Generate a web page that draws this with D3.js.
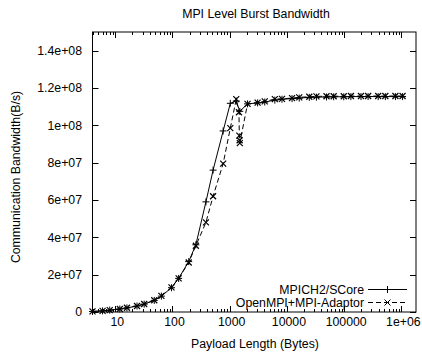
<!DOCTYPE html>
<html>
<head>
<meta charset="utf-8">
<script src="https://cdn.jsdelivr.net/npm/d3@7"></script>
<style>
  html, body { margin: 0; padding: 0; background: #fff; }
  svg text { font-family: "Liberation Sans", Arial, sans-serif; font-size: 12.3px; fill: #000; }
</style>
</head>
<body>
<div id="chart"></div>
<script>
// payload sizes (bytes) and bandwidth (B/s)
const mpichSizes = [4, 6, 8, 12, 16, 24, 32, 48, 64, 96, 128, 192, 256, 384, 512, 768, 1024, 1300, 1500,
    2048, 3072, 4096, 6144, 8192, 12288, 16384, 24576, 32768, 49152, 65536, 98304, 131072,
    196608, 262144, 393216, 524288, 786432, 1048576];
const mpichBandwidth = [0.3e6, 0.6e6, 1.0e6, 1.6e6, 2.2e6, 3.2e6, 4.2e6, 6.2e6, 8.5e6, 1.3e7, 1.8e7, 2.7e7, 3.6e7,
    5.9e7, 7.6e7, 9.7e7, 1.118e8, 1.13e8, 1.075e8,
    1.115e8, 1.12e8, 1.125e8, 1.135e8, 1.14e8, 1.143e8, 1.146e8, 1.15e8, 1.151e8, 1.152e8, 1.153e8, 1.153e8, 1.154e8,
    1.154e8, 1.154e8, 1.154e8, 1.154e8, 1.154e8, 1.154e8];

const adaptorSizes = [4, 6, 8, 12, 16, 24, 32, 48, 64, 96, 128, 192, 256, 384, 512, 768, 1024, 1300, 1450, 1472, 1490, 1500,
    2048, 3072, 4096, 6144, 8192, 12288, 16384, 24576, 32768, 49152, 65536, 98304, 131072,
    196608, 262144, 393216, 524288, 786432, 1048576];
const adaptorBandwidth = [0.3e6, 0.6e6, 1.0e6, 1.6e6, 2.3e6, 3.2e6, 4.3e6, 6.3e6, 8.6e6, 1.32e7, 1.8e7, 2.65e7, 3.55e7,
    4.8e7, 6.2e7, 7.95e7, 9.85e7, 1.14e8, 1.07e8, 9.45e7, 9.2e7, 9.05e7,
    1.115e8, 1.122e8, 1.128e8, 1.14e8, 1.142e8, 1.146e8, 1.15e8, 1.153e8, 1.155e8, 1.156e8, 1.156e8, 1.156e8, 1.157e8,
    1.157e8, 1.157e8, 1.157e8, 1.157e8, 1.157e8, 1.157e8];

const xTickValues = [10, 100, 1000, 10000, 100000, 1000000];
const xTickLabels = ["10", "100", "1000", "10000", "100000", "1e+06"];
const yTickValues = [0, 2e7, 4e7, 6e7, 8e7, 1e8, 1.2e8, 1.4e8];
const yTickLabels = ["0", "2e+07", "4e+07", "6e+07", "8e+07", "1e+08", "1.2e+08", "1.4e+08"];

const seriesNames = ["MPICH2/SCore", "OpenMPI+MPI-Adaptor"];

const width = 422, height = 352;
const plotLeft = 92.5, plotRight = 416, plotTop = 32, plotBottom = 312;

const svg = d3.select("#chart").append("svg")
    .attr("width", width)
    .attr("height", height)
    .style("display", "block");

const x = d3.scaleLog().domain([4, 1.8e6]).range([plotLeft, plotRight]);
const y = d3.scaleLinear().domain([0, 1.5e8]).range([plotBottom, plotTop]);

// frame
svg.append("rect")
    .attr("x", plotLeft).attr("y", plotTop)
    .attr("width", plotRight - plotLeft).attr("height", plotBottom - plotTop)
    .attr("fill", "none").attr("stroke", "#000").attr("stroke-width", 1);

// x ticks, major + minor, mirrored on top
const ticks = svg.append("g").attr("stroke", "#000").attr("stroke-width", 1);
x.ticks().forEach(v => {
    const major = xTickValues.includes(v);
    const len = major ? 6 : 3;
    const px = Math.round(x(v)) + 0.5;
    ticks.append("line").attr("x1", px).attr("x2", px).attr("y1", plotBottom).attr("y2", plotBottom - len);
    ticks.append("line").attr("x1", px).attr("x2", px).attr("y1", plotTop).attr("y2", plotTop + len);
});
yTickValues.forEach(v => {
    const py = Math.round(y(v)) + 0.5;
    ticks.append("line").attr("x1", plotLeft).attr("x2", plotLeft + 6).attr("y1", py).attr("y2", py);
    ticks.append("line").attr("x1", plotRight).attr("x2", plotRight - 6).attr("y1", py).attr("y2", py);
});

svg.append("g").selectAll("text")
    .data(xTickValues)
    .enter().append("text")
    .attr("x", d => x(d) + 2)
    .attr("y", 325.5)
    .attr("text-anchor", "middle")
    .text((d, i) => xTickLabels[i]);

svg.append("g").selectAll("text")
    .data(yTickValues)
    .enter().append("text")
    .attr("x", 82)
    .attr("y", d => y(d))
    .attr("dy", "0.35em")
    .attr("text-anchor", "end")
    .text((d, i) => yTickLabels[i]);

// titles
svg.append("text")
    .attr("x", 256).attr("y", 18)
    .attr("text-anchor", "middle")
    .text("MPI Level Burst Bandwidth");
svg.append("text")
    .attr("x", 255).attr("y", 347.5)
    .attr("text-anchor", "middle")
    .text("Payload Length (Bytes)");
svg.append("text")
    .attr("transform", "translate(20,177) rotate(-90)")
    .attr("text-anchor", "middle")
    .text("Communication Bandwidth(B/s)");

// markers
function plusPath(px, py) {
    const r = 3.5;
    return `M${px - r},${py}h${2 * r}M${px},${py - r}v${2 * r}`;
}
function crossPath(px, py) {
    const r = 3;
    return `M${px - r},${py - r}l${2 * r},${2 * r}M${px + r},${py - r}l${-2 * r},${2 * r}`;
}

const line = d3.line().x(d => x(d[0])).y(d => y(d[1]));

const mpich = mpichSizes.map((s, i) => [s, mpichBandwidth[i]]);
const adaptor = adaptorSizes.map((s, i) => [s, adaptorBandwidth[i]]);

const plot = svg.append("g");
plot.append("path")
    .datum(mpich)
    .attr("d", line)
    .attr("fill", "none").attr("stroke", "#000").attr("stroke-width", 1);
plot.append("path")
    .attr("d", mpich.map(d => plusPath(x(d[0]), y(d[1]))).join(""))
    .attr("fill", "none").attr("stroke", "#000").attr("stroke-width", 1);

plot.append("path")
    .datum(adaptor)
    .attr("d", line)
    .attr("fill", "none").attr("stroke", "#000").attr("stroke-width", 1)
    .attr("stroke-dasharray", "5,3");
plot.append("path")
    .attr("d", adaptor.map(d => crossPath(x(d[0]), y(d[1]))).join(""))
    .attr("fill", "none").attr("stroke", "#000").attr("stroke-width", 1.2);

// legend
const legend = svg.append("g");
const legendRows = [
    { name: seriesNames[0], y: 289.5, dash: null, marker: plusPath },
    { name: seriesNames[1], y: 302.5, dash: "5,3", marker: crossPath }
];
legendRows.forEach(r => {
    legend.append("text")
        .attr("x", 364).attr("y", r.y)
        .attr("dy", "0.35em")
        .attr("text-anchor", "end")
        .text(r.name);
    legend.append("line")
        .attr("x1", 368).attr("x2", 407)
        .attr("y1", r.y).attr("y2", r.y)
        .attr("stroke", "#000").attr("stroke-width", 1)
        .attr("stroke-dasharray", r.dash);
    legend.append("path")
        .attr("d", r.marker(387.5, r.y))
        .attr("fill", "none").attr("stroke", "#000").attr("stroke-width", 1);
});
</script>
</body>
</html>
